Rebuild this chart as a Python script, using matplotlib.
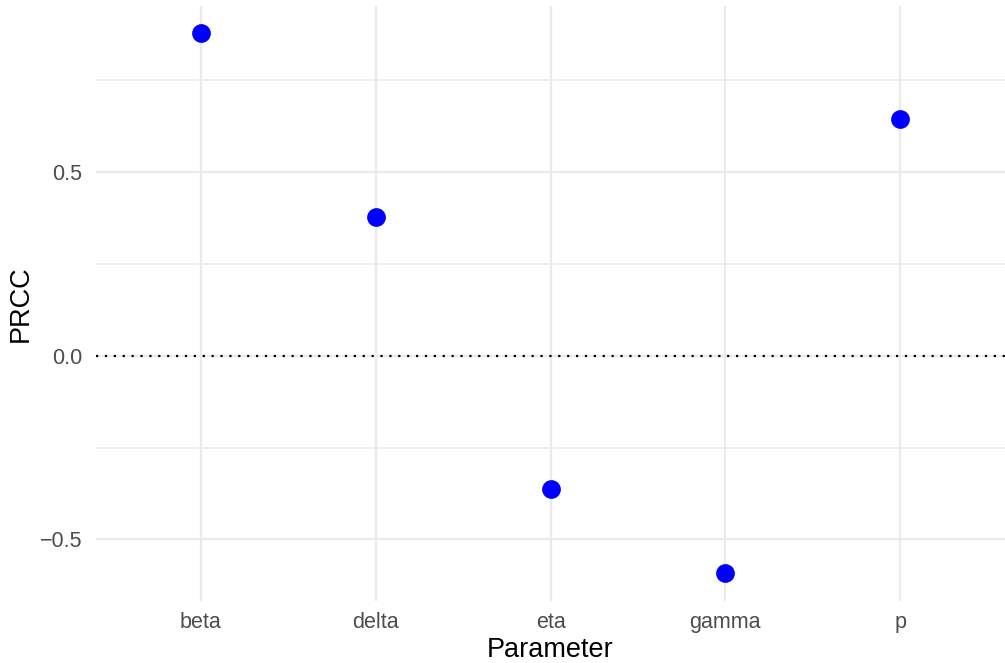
import matplotlib
matplotlib.use("Agg")
import matplotlib.pyplot as plt
from matplotlib.ticker import FixedLocator

parameters = ["beta", "delta", "eta", "gamma", "p"]
prcc = [0.878, 0.379, -0.363, -0.593, 0.645]
y_ticks = [-0.5, 0.0, 0.5]
y_tick_labels = ["\u22120.5", "0.0", "0.5"]
y_minor = [-0.25, 0.25, 0.75]

plt.rcParams["font.family"] = ["Liberation Sans", "DejaVu Sans"]

fig = plt.figure(figsize=(10.05, 6.63), dpi=100)
ax = fig.add_axes([96 / 1005, (663 - 600.5) / 663, 909 / 1005, 594.2 / 663])

x = list(range(len(parameters)))
grid_col = "#EBEBEB"

# panel grid
for v in y_ticks:
    ax.axhline(v, color=grid_col, lw=1.6, zorder=0)
for v in y_minor:
    ax.axhline(v, color=grid_col, lw=1.1, zorder=0)
for xi in x:
    ax.axvline(xi, color=grid_col, lw=1.6, zorder=0)

# reference line at zero
ax.axhline(0, color="black", lw=1.6, linestyle=(0, (1, 3.0)), zorder=1)

ax.plot(x, prcc, "o", color="#0000FF", markersize=13.5, markeredgewidth=0, zorder=3)

lo, hi = min(prcc), max(prcc)
pad = (hi - lo) * 0.05
ax.set_ylim(lo - pad, hi + pad)
ax.set_xlim(-0.6, len(parameters) - 0.4)

ax.set_xticks(x)
ax.set_xticklabels(parameters)
ax.yaxis.set_major_locator(FixedLocator(y_ticks))
ax.set_yticklabels(y_tick_labels)
ax.tick_params(axis="both", length=0, labelsize=15.5, labelcolor="#4D4D4D")
ax.tick_params(axis="x", pad=8)
ax.tick_params(axis="y", pad=10)

for s in ax.spines.values():
    s.set_visible(False)

ax.set_xlabel("Parameter", fontsize=19.5, color="black", labelpad=3)
ax.set_ylabel("PRCC", fontsize=19.5, color="black", labelpad=4)

fig.savefig("out.png", dpi=100, facecolor="white")
